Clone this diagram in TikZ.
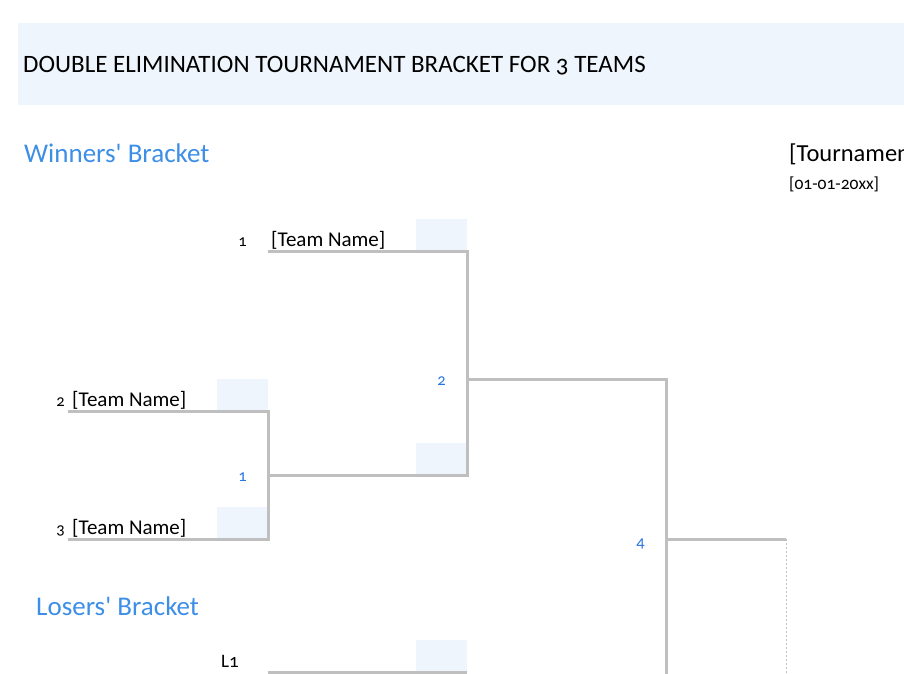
\documentclass[tikz,border=0pt]{standalone}
\usepackage{fontspec}
\setmainfont{Carlito}[Numbers=OldStyle]
\definecolor{bandfill}{HTML}{EEF5FD}
\definecolor{headblue}{HTML}{3C8EE6}
\definecolor{numblue}{HTML}{2A74E0}
\definecolor{linegray}{HTML}{BFBFBF}
\begin{document}
\begin{tikzpicture}[x=1pt,y=-1pt,
  txt/.style={inner sep=0pt,anchor=base west},
  seed/.style={inner sep=0pt,anchor=base east,font=\fontsize{16.5}{16.5}\selectfont},
  team/.style={inner sep=0pt,anchor=base west,font=\fontsize{21}{21}\selectfont},
  matchno/.style={inner sep=0pt,anchor=base east,text=numblue,font=\fontsize{16.5}{16.5}\selectfont},
  head/.style={inner sep=0pt,anchor=base west,text=headblue,font=\fontsize{27}{27}\selectfont},
  scorebox/.style={fill=bandfill,draw=none},
  bline/.style={draw=linegray,line width=3pt},
  dline/.style={draw=linegray,line width=1pt,dash pattern=on 2pt off 2pt}]
\useasboundingbox (0,0) rectangle (904,673);
\clip (0,0) rectangle (904,673);
% title band
\fill[bandfill] (18,23) rectangle (904,105);
\node[txt,font=\fontsize{25}{25}\selectfont] (title) at (23,72) {DOUBLE ELIMINATION TOURNAMENT BRACKET FOR 3 TEAMS};
\node[head] (wb) at (24,162) {Winners\textquotesingle\ Bracket};
\node[head] (lb) at (36,615) {Losers\textquotesingle\ Bracket};
\node[txt,font=\fontsize{24.5}{24.5}\selectfont] (tname) at (789,161) {[Tournament Name]};
\node[txt,font=\fontsize{17.5}{17.5}\selectfont] (tdate) at (789,189) {[01-01-20xx]};
% score boxes
\fill[scorebox] (416,219) rectangle (467,250);
\fill[scorebox] (217,379) rectangle (268,410);
\fill[scorebox] (217,507) rectangle (268,538);
\fill[scorebox] (416,443) rectangle (467,474);
\fill[scorebox] (416,640) rectangle (467,671);
% coordinates
\coordinate (t1a) at (268,251); \coordinate (t1b) at (467,251);
\coordinate (t2a) at (68,411);  \coordinate (t2b) at (268,411);
\coordinate (t3a) at (68,539);  \coordinate (t3b) at (268,539);
\coordinate (m1a) at (268,475); \coordinate (m1b) at (467,475);
\coordinate (m2a) at (467,379); \coordinate (m2b) at (666,379);
\coordinate (m4a) at (666,539); \coordinate (m4b) at (786,539);
\coordinate (m2c) at (666,680);
\coordinate (fin) at (786,680);
\coordinate (l1a) at (268,672); \coordinate (l1b) at (467,672);
% bracket lines
\draw[bline] (t1a) -- (t1b) -- (m1b) -- (m1a);
\draw[bline] (t2a) -- (t2b) -- (t3b) -- (t3a);
\draw[bline] (m2a) -- (m2b) -- (m2c);
\draw[bline] (m4a) -- (m4b);
\draw[dline] (m4b) -- (fin);
\draw[bline] (l1a) -- (l1b);
% seeds and team names
\node[seed] (s1) at (247,246) {1};
\node[team] (n1) at (271,246) {[Team Name]};
\node[seed] (s2) at (65,406) {2};
\node[team] (n2) at (72,406) {[Team Name]};
\node[seed] (s3) at (65,534) {3};
\node[team] (n3) at (72,534) {[Team Name]};
% match numbers
\node[matchno] (g1) at (247,481) {1};
\node[matchno] (g2) at (446,385) {2};
\node[matchno] (g4) at (645,547) {4};
\node[txt,font=\fontsize{19}{19}\selectfont] (l1) at (221,667) {L1};
\end{tikzpicture}
\end{document}
